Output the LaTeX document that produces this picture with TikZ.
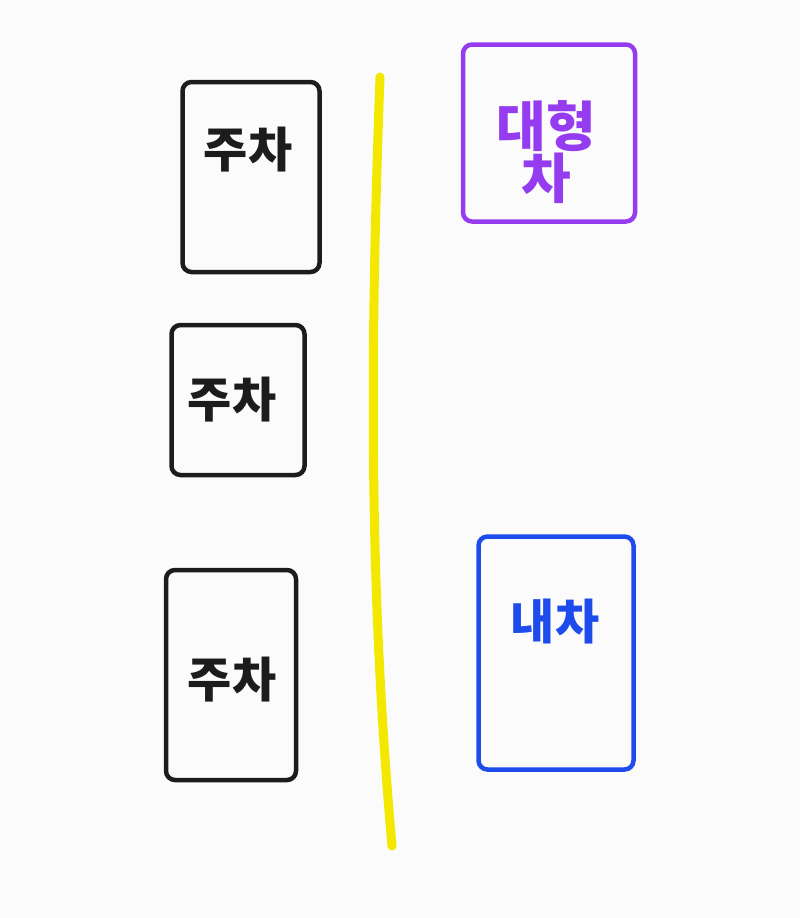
\documentclass[tikz,border=0pt]{standalone}
\usepackage{fontspec}
\newfontfamily\kr{Noto Sans CJK KR}
\usepackage{xcolor}
\usetikzlibrary{calc}
\definecolor{inkblack}{RGB}{28,28,28}
\definecolor{inkyellow}{RGB}{245,232,0}
\definecolor{inkpurple}{RGB}{150,60,240}
\definecolor{inkblue}{RGB}{30,75,235}
\definecolor{paper}{RGB}{251,251,251}
\begin{document}
\begin{tikzpicture}[x=1pt,y=-1pt]
%
\tikzstyle{spot}=[draw=inkblack,line width=4.5pt,shape=rectangle,rounded corners=9pt]
\tikzstyle{lbl}=[font=\kr\bfseries\fontsize{48}{54}\selectfont,text=inkblack]
\tikzstyle{lane}=[draw=inkyellow,line width=9pt,line cap=round]
%
\fill[paper] (0,0) rectangle (800,918);
\useasboundingbox (0,0) rectangle (800,918);
%
\node[spot,minimum width=137,minimum height=190](p1) at (251,177){};
\node[spot,minimum width=133,minimum height=150](p2) at (238,400){};
\node[spot,minimum width=130,minimum height=210](p3) at (231,675){};
\node[lbl](t1) at (248,150){주차};
\node[lbl](t2) at (232,400){주차};
\node[lbl](t3) at (232,680){주차};
%
\draw[lane] (380,77) .. controls (368,400) and (372,620) .. (392,846);
%
\node[spot,draw=inkpurple,minimum width=172,minimum height=177](big) at (549,133){};
\node[lbl,text=inkpurple,align=center,font=\kr\bfseries\fontsize{54}{56}\selectfont](tbig) at (546,152){대형\\[-4pt]차};
%
\node[spot,draw=inkblue,minimum width=155,minimum height=233](mine) at (556,653){};
\node[lbl,text=inkblue](tmine) at (555,622){내차};
\end{tikzpicture}
\end{document}
